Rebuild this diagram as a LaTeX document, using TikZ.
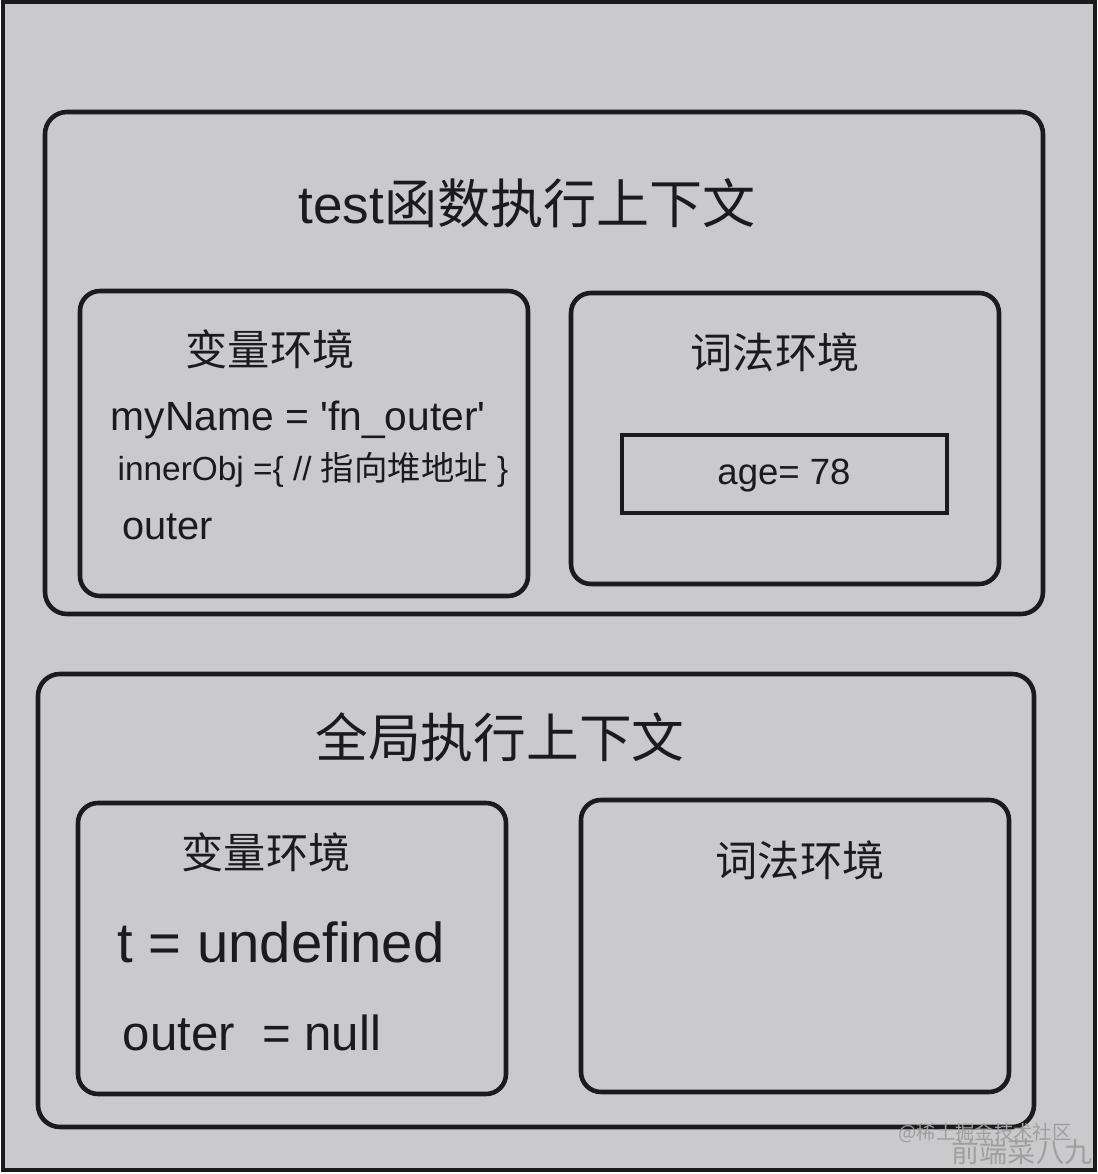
\documentclass[tikz,border=0pt]{standalone}
\usepackage{fontspec}
\setmainfont{Liberation Sans}
\newfontfamily\cjk{Noto Sans CJK SC}
\usepackage{tikz}
\definecolor{bgcol}{HTML}{CACACC}
\definecolor{inkcol}{HTML}{1B1B1D}
\newcommand{\fs}[1]{\fontsize{#1}{#1}\selectfont}

\begin{document}
\begin{tikzpicture}[
    ctxbox/.style={draw=inkcol, fill=bgcol, line width=1.3pt, rounded corners=0.22cm, inner sep=0pt},
    envbox/.style={draw=inkcol, fill=bgcol, line width=1.3pt, rounded corners=0.2cm, inner sep=0pt},
    txt/.style={text=inkcol, inner sep=0pt}
  ]
  \useasboundingbox (0,0) rectangle (10.98,11.74);
  % Frame
  \draw[draw=inkcol, fill=bgcol, line width=1.2pt] (0.03,0.04) rectangle (10.95,11.72);

  % test context
  \node[ctxbox, minimum width=9.98cm, minimum height=5.02cm] (testctx) at (5.44,8.11) {};
  \node[txt, font=\fs{15.1}] (testtitle) at (5.27,9.71) {test{\cjk 函数执行上下文}};
  \node[envbox, minimum width=4.48cm, minimum height=3.05cm] (testve) at (3.04,7.305) {};
  \node[txt, font=\cjk\fs{12}] (testvelabel) at (2.70,8.25) {变量环境};
  \node[txt, anchor=west, font=\fs{11.6}] (myname) at (1.10,7.54) {myName = \textquotesingle fn\_outer\textquotesingle};
  \node[txt, anchor=west, font=\fs{9.5}] (innerobj) at (1.17,7.04) {innerObj =\{ // {\cjk 指向堆地址} \}};
  \node[txt, anchor=west, font=\fs{11.3}] (testouter) at (1.22,6.47) {outer};
  \node[envbox, minimum width=4.28cm, minimum height=2.91cm] (testle) at (7.85,7.355) {};
  \node[txt, font=\cjk\fs{12}] (testlelabel) at (7.75,8.22) {词法环境};
  \node[draw=inkcol, fill=bgcol, line width=1.3pt, minimum width=3.25cm, minimum height=0.78cm] (age) at (7.845,7.00) {};
  \node[txt, font=\fs{10.4}] (agetext) at (7.84,6.98) {age= 78};

  % global context
  \node[ctxbox, minimum width=9.96cm, minimum height=4.53cm] (globalctx) at (5.36,2.735) {};
  \node[txt, font=\cjk\fs{15}] (globaltitle) at (5.00,4.37) {全局执行上下文};
  \node[envbox, minimum width=4.28cm, minimum height=2.91cm] (globalve) at (2.92,2.255) {};
  \node[txt, font=\cjk\fs{12}] (globalvelabel) at (2.66,3.22) {变量环境};
  \node[txt, anchor=west, font=\fs{16}] (tundef) at (1.17,2.32) {t = undefined};
  \node[txt, anchor=west, font=\fs{14}] (globalouter) at (1.22,1.41) {outer\ \ = null};
  \node[envbox, minimum width=4.28cm, minimum height=2.92cm] (globalle) at (7.95,2.28) {};
  \node[txt, font=\cjk\fs{12}] (globallelabel) at (8.00,3.14) {词法环境};

  % Watermark
  \node[text=gray!75, inner sep=0pt, font=\cjk\fs{5.5}] (mark1) at (9.85,0.41) {@稀土掘金技术社区};
  \node[text=gray!75, inner sep=0pt, font=\cjk\fs{8}] (mark2) at (10.22,0.22) {前端菜八九};
\end{tikzpicture}
\end{document}
